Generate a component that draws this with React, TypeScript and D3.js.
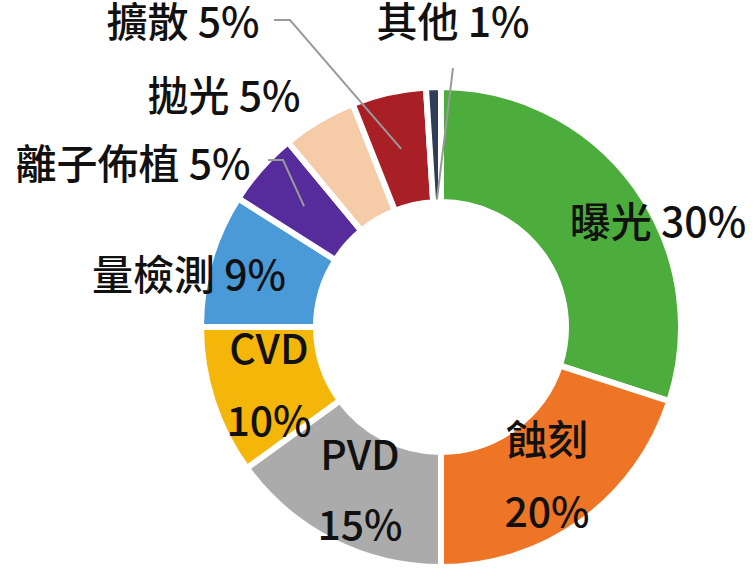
import * as d3 from 'd3';

// Equipment spending share by process step
const categories = ['曝光', '蝕刻', 'PVD', 'CVD', '量檢測', '離子佈植', '拋光', '擴散', '其他'];
const shares = [30, 20, 15, 10, 9, 5, 5, 5, 1];
const colors = ['#4cac3c', '#ee7526', '#ababab', '#f5b60a', '#4b9ad8', '#562b9c', '#f5cba8', '#a81f25', '#2f3d58'];

const W = 756;
const H = 577;
const cx = 441;
const cy = 327;
const outerR = 240;
const innerR = 125;

// label placement: split = two lines (name / percent), leader = points from text to slice
type Layout = { x: number; y: number; split?: boolean; gap?: number; leader?: [number, number][]; leaderR?: number };
const layout: Layout[] = [
  { x: 658, y: 237 },
  { x: 547, y: 455, split: true, gap: 72 },
  { x: 360, y: 470, split: true, gap: 70 },
  { x: 269, y: 364, split: true, gap: 72 },
  { x: 189, y: 290 },
  { x: 133, y: 179, leader: [[268, 160], [283, 160]] },
  { x: 224, y: 111 },
  { x: 183, y: 37, leader: [[274, 20], [290, 20]] },
  { x: 453, y: 37, leader: [[453, 68]], leaderR: 128 },
];

export default function App() {
  const pie = d3.pie<number>().sort(null).value(d => d);
  const arcs = pie(shares);
  const arc = d3.arc<d3.PieArcDatum<number>>().innerRadius(innerR).outerRadius(outerR);
  const line = d3.line();

  return (
    <svg width={W} height={H} style={{ position: 'absolute', left: 0, top: 0, background: '#fff' }}
      fontFamily="'Noto Sans CJK TC', 'Noto Sans', sans-serif">
      <g transform={`translate(${cx},${cy})`}>
        {arcs.map((a, i) => (
          <path key={categories[i]} d={arc(a) || ''} fill={colors[i]} stroke="#fff" strokeWidth={6} strokeLinejoin="miter" />
        ))}
      </g>
      {layout.map((l, i) => {
        if (!l.leader) return null;
        const a = arcs[i];
        const mid = (a.startAngle + a.endAngle) / 2;
        const r = l.leaderR ?? (innerR + outerR) / 2;
        const end: [number, number] = [cx + r * Math.sin(mid), cy - r * Math.cos(mid)];
        return <path key={'leader' + i} d={line([...l.leader, end]) || ''} fill="none" stroke="#9a9a9a" strokeWidth={2} />;
      })}
      {layout.map((l, i) => {
        const name = categories[i];
        const pct = `${shares[i]}%`;
        return l.split ? (
          <g key={'label' + i} fontSize={41} fontWeight={500} fill="#111" textAnchor="middle">
            <text x={l.x} y={l.y}>{name}</text>
            <text x={l.x} y={l.y + (l.gap || 70)}>{pct}</text>
          </g>
        ) : (
          <text key={'label' + i} x={l.x} y={l.y} fontSize={41} fontWeight={500} fill="#111" textAnchor="middle">
            {`${name} ${pct}`}
          </text>
        );
      })}
    </svg>
  );
}
